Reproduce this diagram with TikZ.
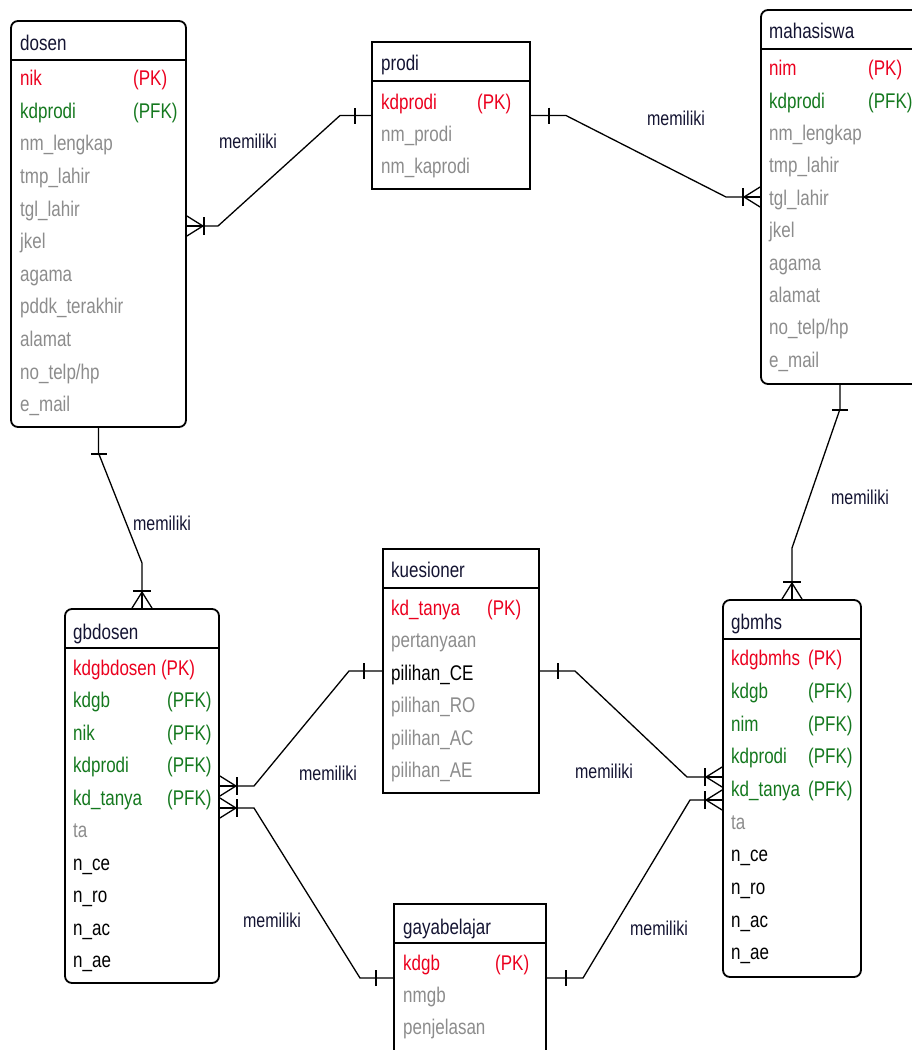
\documentclass[tikz,border=0pt]{standalone}
\usepackage{fontspec}
\setmainfont{Liberation Sans}
\usetikzlibrary{calc}
\definecolor{pkred}{RGB}{235,0,30}
\definecolor{fkgreen}{RGB}{20,120,30}
\definecolor{attgray}{RGB}{140,140,140}
\definecolor{ttl}{RGB}{20,20,50}
\newcommand\vst[1]{\scalebox{1}[1.25]{#1}}
\tikzset{
  ent/.style={draw, line width=1.8pt, inner sep=0pt, rounded corners=7pt},
  tab/.style={draw, line width=1.8pt, inner sep=0pt},
  sepline/.style={line width=1.8pt},
  conn/.style={line width=1.3pt},
  txt/.style={anchor=base west, inner sep=0pt, yshift=-1.6pt, font=\fontsize{17}{20}\selectfont},
  ttxt/.style={txt, text=ttl},
  pk/.style={txt, text=pkred},
  fk/.style={txt, text=fkgreen},
  attr/.style={txt, text=attgray},
  bt/.style={txt, text=black},
  rel/.style={anchor=center, inner sep=0pt, text=ttl, font=\fontsize{16}{19}\selectfont},
  pics/many/.style={code={
    \draw[conn] (0,-10) -- (16,0) -- (0,10);
    \draw[conn] (0,0) -- (16,0);
    \draw[conn] (17,-9) -- (17,9);}},
  pics/one/.style={code={\draw[conn] (#1,-8) -- (#1,8);}}
}
\begin{document}
\begin{tikzpicture}[x=1pt,y=-1pt]
\clip (0,0) rectangle (912,1050);
\useasboundingbox (0,0) rectangle (912,1050);

% entity boxes
\node[ent, minimum width=175pt, minimum height=406pt] (dosen) at (98.5,224) {};
\node[tab, minimum width=158pt, minimum height=147pt] (prodi) at (451,115.5) {};
\node[ent, minimum width=158pt, minimum height=374pt] (mhs) at (840,197) {};
\node[ent, minimum width=154pt, minimum height=374pt] (gbdosen) at (142,796) {};
\node[tab, minimum width=156pt, minimum height=244pt] (kues) at (461,671) {};
\node[ent, minimum width=138pt, minimum height=377pt] (gbmhs) at (792,788.5) {};
\node[tab, minimum width=152pt, minimum height=148pt] (gaya) at (470,978) {};

% header separators
\foreach \b in {dosen,prodi,mhs,gbdosen,kues,gbmhs,gaya}
  \draw[sepline] ([yshift=-40pt]\b.north west) -- ([yshift=-40pt]\b.north east);

% dosen
\node[ttxt] (dosen-t) at (20,49) {\vst{dosen}};
\node[pk] (dosen-r1) at (20,84) {\vst{nik}};
\node[pk] (dosen-k1) at (133,84) {\vst{(PK)}};
\node[fk] (dosen-r2) at (20,116.6) {\vst{kdprodi}};
\node[fk] (dosen-k2) at (133,116.6) {\vst{(PFK)}};
\foreach \t [count=\i from 3] in {nm\_lengkap,tmp\_lahir,tgl\_lahir,jkel,agama,pddk\_terakhir,alamat,no\_telp/hp,e\_mail}
  \node[attr] (dosen-r\i) at (20,{84+32.6*(\i-1)}) {\vst{\t}};

% prodi
\node[ttxt] (prodi-t) at (381,69) {\vst{prodi}};
\node[pk] (prodi-r1) at (381,107.5) {\vst{kdprodi}};
\node[pk] (prodi-k1) at (477,107.5) {\vst{(PK)}};
\node[attr] (prodi-r2) at (381,139.5) {\vst{nm\_prodi}};
\node[attr] (prodi-r3) at (381,171.5) {\vst{nm\_kaprodi}};

% mahasiswa
\node[ttxt] (mhs-t) at (769,37) {\vst{mahasiswa}};
\node[pk] (mhs-r1) at (769,74) {\vst{nim}};
\node[pk] (mhs-k1) at (868,74) {\vst{(PK)}};
\node[fk] (mhs-r2) at (769,106.4) {\vst{kdprodi}};
\node[fk] (mhs-k2) at (868,106.4) {\vst{(PFK)}};
\foreach \t [count=\i from 3] in {nm\_lengkap,tmp\_lahir,tgl\_lahir,jkel,agama,alamat,no\_telp/hp,e\_mail}
  \node[attr] (mhs-r\i) at (769,{74+32.4*(\i-1)}) {\vst{\t}};

% gbdosen
\node[ttxt] (gbdosen-t) at (73,638) {\vst{gbdosen}};
\node[pk] (gbdosen-r1) at (73,673.5) {\vst{kdgbdosen (PK)}};
\foreach \t [count=\i from 2] in {kdgb,nik,kdprodi,kd\_tanya}{
  \node[fk] (gbdosen-r\i) at (73,{673.5+32.5*(\i-1)}) {\vst{\t}};
  \node[fk] (gbdosen-k\i) at (167,{673.5+32.5*(\i-1)}) {\vst{(PFK)}};}
\node[attr] (gbdosen-r6) at (73,836) {\vst{ta}};
\foreach \t [count=\i from 7] in {n\_ce,n\_ro,n\_ac,n\_ae}
  \node[bt] (gbdosen-r\i) at (73,{673.5+32.5*(\i-1)}) {\vst{\t}};

% kuesioner
\node[ttxt] (kues-t) at (391,576) {\vst{kuesioner}};
\node[pk] (kues-r1) at (391,613.5) {\vst{kd\_tanya}};
\node[pk] (kues-k1) at (487,613.5) {\vst{(PK)}};
\node[attr] (kues-r2) at (391,646) {\vst{pertanyaan}};
\node[bt] (kues-r3) at (391,678.5) {\vst{pilihan\_CE}};
\node[attr] (kues-r4) at (391,711) {\vst{pilihan\_RO}};
\node[attr] (kues-r5) at (391,743.5) {\vst{pilihan\_AC}};
\node[attr] (kues-r6) at (391,776) {\vst{pilihan\_AE}};

% gbmhs
\node[ttxt] (gbmhs-t) at (731,628) {\vst{gbmhs}};
\node[pk] (gbmhs-r1) at (731,664) {\vst{kdgbmhs}};
\node[pk] (gbmhs-k1) at (808,664) {\vst{(PK)}};
\foreach \t [count=\i from 2] in {kdgb,nim,kdprodi,kd\_tanya}{
  \node[fk] (gbmhs-r\i) at (731,{664+32.7*(\i-1)}) {\vst{\t}};
  \node[fk] (gbmhs-k\i) at (808,{664+32.7*(\i-1)}) {\vst{(PFK)}};}
\node[attr] (gbmhs-r6) at (731,827.5) {\vst{ta}};
\foreach \t [count=\i from 7] in {n\_ce,n\_ro,n\_ac,n\_ae}
  \node[bt] (gbmhs-r\i) at (731,{664+32.7*(\i-1)}) {\vst{\t}};

% gayabelajar
\node[ttxt] (gaya-t) at (403,933) {\vst{gayabelajar}};
\node[pk] (gaya-r1) at (403,969) {\vst{kdgb}};
\node[pk] (gaya-k1) at (495,969) {\vst{(PK)}};
\node[attr] (gaya-r2) at (403,1001) {\vst{nmgb}};
\node[attr] (gaya-r3) at (403,1033) {\vst{penjelasan}};

% connector end points
\coordinate (dp) at ([yshift=-2pt]dosen.east);
\coordinate (gk) at ([yshift=10pt]gbdosen.east);
\coordinate (gg) at ([yshift=-12pt]gbdosen.east);
\coordinate (km) at ([yshift=11.5pt]gbmhs.west);
\coordinate (gm) at ([yshift=-11.5pt]gbmhs.west);

% connectors
\draw[conn] (dp) -- (218,226) -- (340,115.5) -- (prodi.west);
\draw[conn] (prodi.east) -- (566,115.5) -- (726,197) -- (mhs.west);
\draw[conn] (mhs.south) -- (840,409) -- (792,548) -- (gbmhs.north);
\draw[conn] (dosen.south) -- (98.5,453) -- (142,563) -- (gbdosen.north);
\draw[conn] (gk) -- (254,786) -- (349,671) -- (kues.west);
\draw[conn] (gg) -- (254,808) -- (360,978) -- (gaya.west);
\draw[conn] (kues.east) -- (575,671) -- (687,777) -- (km);
\draw[conn] (gaya.east) -- (583,978) -- (690,800) -- (gm);

% cardinality marks
\pic at (dp) {many};
\pic[rotate=180] at (prodi.west) {one=16};
\pic at (prodi.east) {one=18};
\pic[rotate=180] at (mhs.west) {many};
\pic[rotate=-90] at (mhs.south) {one=25};
\pic[rotate=90] at (gbmhs.north) {many};
\pic[rotate=-90] at (dosen.south) {one=26};
\pic[rotate=90] at (gbdosen.north) {many};
\pic at (gk) {many};
\pic[rotate=180] at (kues.west) {one=18};
\pic at (gg) {many};
\pic[rotate=180] at (gaya.west) {one=17};
\pic at (kues.east) {one=18};
\pic[rotate=180] at (km) {many};
\pic at (gaya.east) {one=19};
\pic[rotate=180] at (gm) {many};

% relationship labels
\node[rel] (l1) at (248,141) {\vst{memiliki}};
\node[rel] (l2) at (676,118) {\vst{memiliki}};
\node[rel] (l3) at (860,497) {\vst{memiliki}};
\node[rel] (l4) at (162,523) {\vst{memiliki}};
\node[rel] (l5) at (328,773) {\vst{memiliki}};
\node[rel] (l6) at (604,771) {\vst{memiliki}};
\node[rel] (l7) at (272,920) {\vst{memiliki}};
\node[rel] (l8) at (659,928) {\vst{memiliki}};
\end{tikzpicture}
\end{document}
